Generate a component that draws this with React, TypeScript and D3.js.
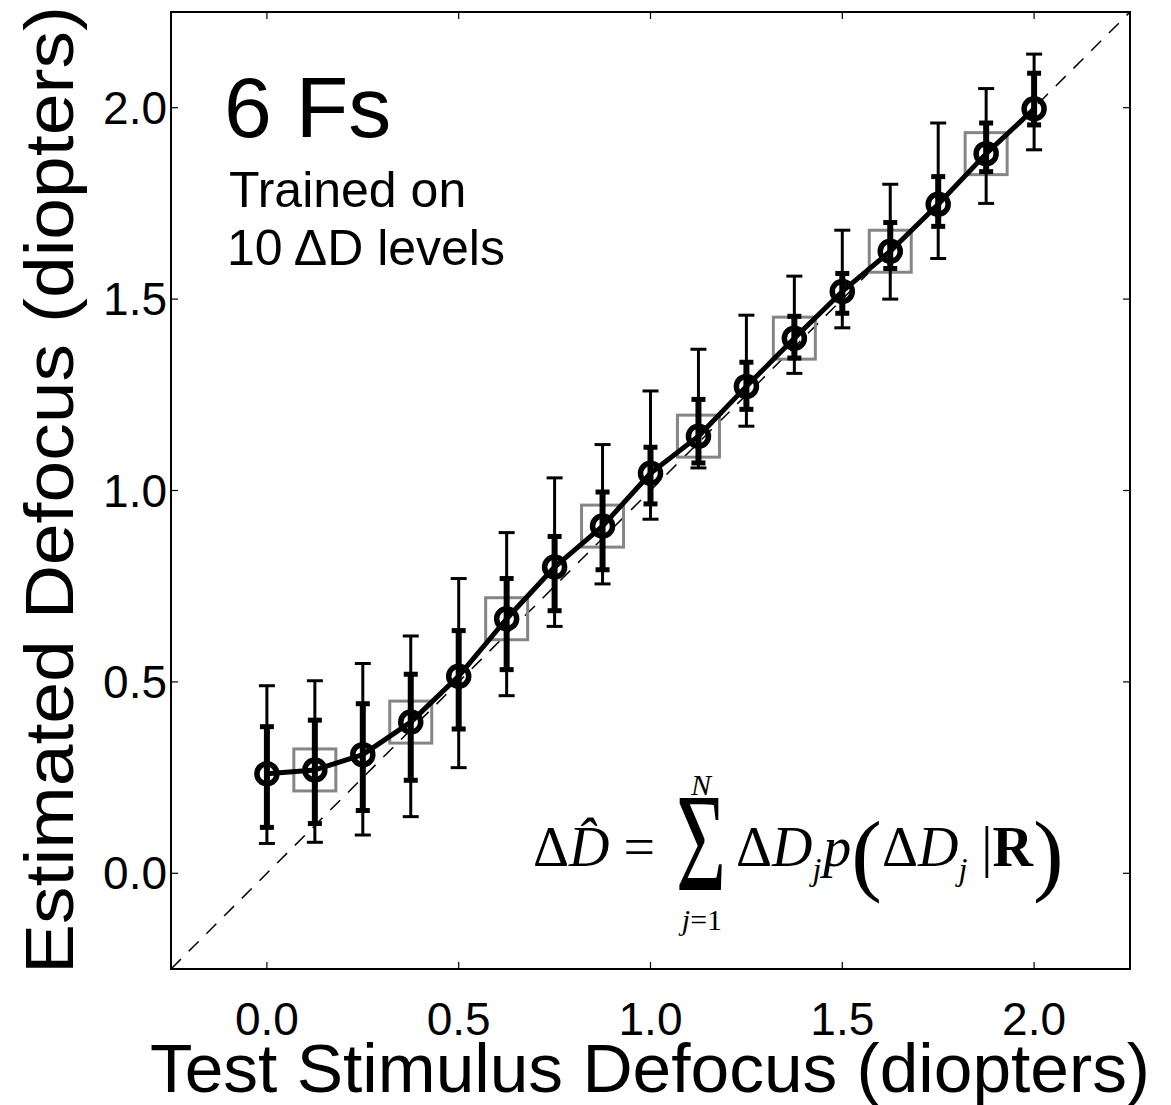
import React from "react";
import * as d3 from "d3";

const testDefocus = [0, 0.125, 0.25, 0.375, 0.5, 0.625, 0.75, 0.875, 1.0, 1.125, 1.25, 1.375, 1.5, 1.625, 1.75, 1.875, 2.0];
const estimated = [0.26, 0.27, 0.31, 0.395, 0.515, 0.665, 0.80, 0.907, 1.045, 1.142, 1.272, 1.398, 1.52, 1.625, 1.748, 1.88, 1.997];
const outerHi = [0.49, 0.503, 0.548, 0.62, 0.77, 0.89, 1.033, 1.12, 1.26, 1.369, 1.458, 1.56, 1.68, 1.80, 1.96, 2.05, 2.14];
const outerLo = [0.078, 0.081, 0.10, 0.148, 0.276, 0.464, 0.645, 0.756, 0.925, 1.059, 1.168, 1.306, 1.425, 1.50, 1.606, 1.75, 1.89];
const innerHi = [0.383, 0.40, 0.443, 0.52, 0.634, 0.77, 0.88, 0.996, 1.113, 1.238, 1.335, 1.455, 1.567, 1.70, 1.82, 1.96, 2.09];
const innerLo = [0.12, 0.13, 0.164, 0.243, 0.377, 0.532, 0.686, 0.793, 0.965, 1.072, 1.212, 1.346, 1.463, 1.58, 1.69, 1.833, 1.955];
const untrained = [false, true, false, true, false, true, false, true, false, true, false, true, false, true, false, true, false];
const tickValues = [0, 0.5, 1.0, 1.5, 2.0];
const domain = [-0.25, 2.25];

const SANS = "'Liberation Sans', Arial, Helvetica, sans-serif";
const SERIF = "'Liberation Serif', 'Times New Roman', Times, serif";

export default function App() {
  const left = 171, right = 1130, top = 12, bottom = 969;
  const x = d3.scaleLinear().domain(domain).range([left, right]);
  const y = d3.scaleLinear().domain(domain).range([bottom, top]);
  const line = d3.line<number>().x((_, i) => x(testDefocus[i])).y((d) => y(d));
  const tickLen = 7;
  const capOuter = 8;
  const capInner = 7;
  const sq = 21;

  return (
    <svg width={1171} height={1105} style={{ position: "absolute", left: 0, top: 0, background: "#fff" }}>
      <rect x={0} y={0} width={1171} height={1105} fill="#fff" />
      {/* diagonal */}
      <line x1={x(domain[0])} y1={y(domain[0])} x2={x(domain[1])} y2={y(domain[1])}
        stroke="#000" strokeWidth={1.5} strokeDasharray="14 11" />
      {/* squares for untrained levels */}
      {testDefocus.map((d, i) => untrained[i] ? (
        <rect key={"sq" + i} x={x(d) - sq} y={y(estimated[i]) - sq} width={2 * sq} height={2 * sq}
          fill="none" stroke="#858585" strokeWidth={3} />
      ) : null)}
      {/* outer error bars */}
      {testDefocus.map((d, i) => (
        <g key={"ob" + i} stroke="#000" strokeWidth={3}>
          <line x1={x(d)} x2={x(d)} y1={y(outerLo[i])} y2={y(outerHi[i])} />
          <line x1={x(d) - capOuter} x2={x(d) + capOuter} y1={y(outerLo[i])} y2={y(outerLo[i])} />
          <line x1={x(d) - capOuter} x2={x(d) + capOuter} y1={y(outerHi[i])} y2={y(outerHi[i])} />
        </g>
      ))}
      {/* inner error bars */}
      {testDefocus.map((d, i) => (
        <g key={"ib" + i} stroke="#000">
          <line x1={x(d)} x2={x(d)} y1={y(innerLo[i])} y2={y(innerHi[i])} strokeWidth={6} />
          <line x1={x(d) - capInner} x2={x(d) + capInner} y1={y(innerLo[i])} y2={y(innerLo[i])} strokeWidth={5} />
          <line x1={x(d) - capInner} x2={x(d) + capInner} y1={y(innerHi[i])} y2={y(innerHi[i])} strokeWidth={5} />
        </g>
      ))}
      {/* line */}
      <path d={line(estimated) || ""} fill="none" stroke="#000" strokeWidth={5} strokeLinejoin="round" />
      {testDefocus.map((d, i) => (
        <circle key={"c" + i} cx={x(d)} cy={y(estimated[i])} r={10} fill="none" stroke="#000" strokeWidth={5.5} />
      ))}
      {/* frame */}
      <rect x={left} y={top} width={right - left} height={bottom - top} fill="none" stroke="#000" strokeWidth={2} />
      {tickValues.map((t) => (
        <g key={"t" + t} stroke="#000" strokeWidth={1.2}>
          <line x1={x(t)} x2={x(t)} y1={bottom} y2={bottom - tickLen} />
          <line x1={x(t)} x2={x(t)} y1={top} y2={top + tickLen} />
          <line x1={left} x2={left + tickLen} y1={y(t)} y2={y(t)} />
          <line x1={right} x2={right - tickLen} y1={y(t)} y2={y(t)} />
        </g>
      ))}
      {/* tick labels */}
      {tickValues.map((t) => (
        <text key={"xl" + t} x={x(t)} y={1035} textAnchor="middle" fontFamily={SANS} fontSize={46} fill="#000">
          {d3.format(".1f")(t)}
        </text>
      ))}
      {tickValues.map((t) => (
        <text key={"yl" + t} x={167} y={y(t) + 16} textAnchor="end" fontFamily={SANS} fontSize={46} fill="#000">
          {d3.format(".1f")(t)}
        </text>
      ))}
      {/* axis titles */}
      <text x={650} y={1092} textAnchor="middle" fontFamily={SANS} fontSize={68} fill="#000"
        textLength={1000} lengthAdjust="spacingAndGlyphs">Test Stimulus Defocus (diopters)</text>
      <text transform="translate(73,490) rotate(-90)" textAnchor="middle" fontFamily={SANS} fontSize={68} fill="#000"
        textLength={968} lengthAdjust="spacingAndGlyphs">Estimated Defocus (diopters)</text>
      {/* annotations */}
      <text x={224} y={137} fontFamily={SANS} fontSize={86} fill="#000">6 Fs</text>
      <text x={229} y={207} fontFamily={SANS} fontSize={50} fill="#000">Trained on</text>
      <text x={227} y={265} fontFamily={SANS} fontSize={50} fill="#000">10 ΔD levels</text>
      {/* formula */}
      <g fontFamily={SERIF} fill="#000">
        <text x={533} y={866} fontSize={56}>
          <tspan>Δ</tspan><tspan fontStyle="italic">D{"\u0302"}</tspan><tspan dx={14}>=</tspan>
        </text>
        <text x={676} y={890} fontSize={139} textLength={50} lengthAdjust="spacingAndGlyphs">Σ</text>
        <text x={701} y={795} fontSize={30} fontStyle="italic" textAnchor="middle">N</text>
        <text x={702} y={930} fontSize={30} textAnchor="middle"><tspan fontStyle="italic">j</tspan>=1</text>
        <text x={736} y={866} fontSize={56}>
          <tspan>Δ</tspan><tspan fontStyle="italic">D</tspan>
          <tspan fontSize={32} fontStyle="italic" dy={14}>j</tspan>
          <tspan fontStyle="italic" dy={-14} dx={2}>p</tspan>
          <tspan fontSize={92} dy={18}>(</tspan>
          <tspan dy={-18}>Δ</tspan><tspan fontStyle="italic">D</tspan>
          <tspan fontSize={32} fontStyle="italic" dy={14}>j</tspan>
          <tspan dy={-14} dx={14}>|</tspan>
          <tspan fontWeight="bold">R</tspan>
          <tspan fontSize={92} dy={18}>)</tspan>
        </text>
      </g>
    </svg>
  );
}
